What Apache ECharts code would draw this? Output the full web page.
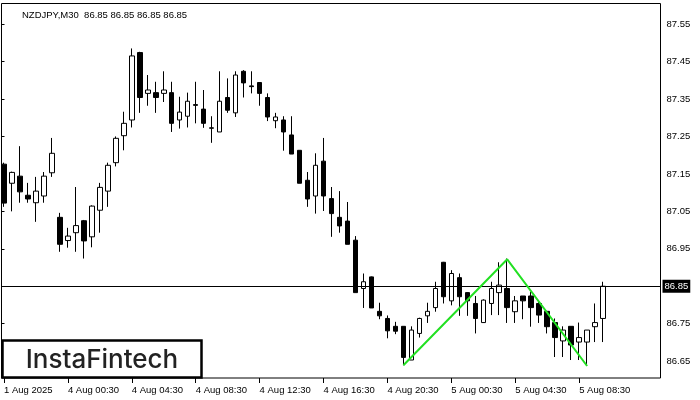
<!DOCTYPE html>
<html>
<head>
<meta charset="utf-8">
<script src="https://cdn.jsdelivr.net/npm/echarts@6/dist/echarts.min.js"></script>
<style>html,body{margin:0;padding:0;background:#fff}#c{width:700px;height:400px}</style>
</head>
<body>
<div id="c"></div>
<script>
const titleText = 'NZDJPY,M30  86.85 86.85 86.85 86.85';
const tickLabels = ['1 Aug 2025','4 Aug 00:30','4 Aug 04:30','4 Aug 08:30','4 Aug 12:30','4 Aug 16:30','4 Aug 20:30','5 Aug 00:30','5 Aug 04:30','5 Aug 08:30'];
const yTicks = [86.65, 86.75, 86.85, 86.95, 87.05, 87.15, 87.25, 87.35, 87.45, 87.55];
const lastPrice = 86.85;
const opens = [87.176,87.125,87.144,87.093,87.073,87.091,87.153,87.034,86.972,86.993,
87.025,86.982,87.053,87.104,87.18,87.252,87.294,87.474,87.365,87.367,
87.365,87.367,87.294,87.304,87.335,87.323,87.273,87.262,87.354,87.313,
87.424,87.385,87.394,87.354,87.292,87.294,87.254,87.213,87.133,87.091,
87.184,87.084,87.034,87.024,86.973,86.844,86.875,86.783,86.764,86.743,
86.743,86.653,86.724,86.771,86.793,86.914,86.811,86.873,86.833,86.804,
86.753,86.804,86.833,86.844,86.782,86.824,86.824,86.804,86.783,86.753,
86.704,86.743,86.701,86.701,86.742,86.764];
const closes = [87.072,87.154,87.102,87.083,87.104,87.144,87.205,86.962,86.984,87.012,
86.971,87.064,87.114,87.173,87.245,87.285,87.465,87.354,87.374,87.354,
87.374,87.285,87.315,87.344,87.333,87.285,87.272,87.344,87.320,87.414,
87.393,87.383,87.365,87.302,87.302,87.262,87.203,87.125,87.083,87.173,
87.091,87.044,87.011,86.962,86.833,86.862,86.792,86.771,86.731,86.730,
86.660,86.733,86.764,86.783,86.844,86.822,86.884,86.822,86.811,86.764,
86.813,86.844,86.853,86.793,86.811,86.811,86.793,86.773,86.742,86.713,
86.733,86.693,86.713,86.733,86.753,86.85];
const lows = [87.062,87.05,87.073,87.073,87.022,87.073,87.142,86.942,86.953,86.942,
86.924,86.954,86.993,87.062,87.17,87.213,87.274,87.313,87.332,87.313,
87.342,87.262,87.271,87.274,87.285,87.273,87.233,87.262,87.313,87.302,
87.354,87.365,87.332,87.291,87.272,87.212,87.203,87.125,87.062,87.044,
87.051,86.982,86.993,86.962,86.833,86.792,86.792,86.762,86.711,86.722,
86.639,86.653,86.713,86.752,86.782,86.804,86.799,86.771,86.771,86.724,
86.752,86.773,86.773,86.752,86.752,86.762,86.742,86.752,86.724,86.661,
86.661,86.653,86.653,86.639,86.701,86.701];
const highs = [87.18,87.156,87.224,87.126,87.142,87.155,87.246,87.046,87.006,87.115,
87.027,87.066,87.126,87.18,87.25,87.316,87.485,87.476,87.414,87.396,
87.424,87.396,87.356,87.367,87.396,87.374,87.304,87.424,87.405,87.424,
87.427,87.424,87.395,87.365,87.313,87.304,87.304,87.213,87.155,87.205,
87.246,87.115,87.104,87.075,86.984,86.884,86.876,86.806,86.772,86.755,
86.743,86.743,86.766,86.806,86.862,86.915,86.893,86.884,86.834,86.824,
86.815,86.862,86.914,86.924,86.824,86.824,86.835,86.813,86.784,86.764,
86.743,86.743,86.753,86.733,86.804,86.862];
const patternX = [50, 63, 73];
const patternY = [86.639, 86.922, 86.637];

const slots = 83;
const categories = [];
for (let i = 0; i < slots; i++) categories.push(i % 8 === 0 && tickLabels[i / 8] ? tickLabels[i / 8] : '');
const candleData = opens.map((o, i) => [o, closes[i], lows[i], highs[i]]);
const patternData = patternX.map((x, i) => [x, patternY[i]]);
const showTick = (i) => i % 8 === 0 && i / 8 < tickLabels.length;

const yMin = 86.605, yMax = 87.605;
const font = 'Liberation Sans, Arial, sans-serif';
const chart = echarts.init(document.getElementById('c'));
chart.setOption({
  animation: false,
  backgroundColor: '#fff',
  title: { text: titleText, left: 17, top: 5, textStyle: { fontSize: 9.5, fontWeight: 'normal', color: '#000', fontFamily: font } },
  grid: [
    { left: -1, right: 37, top: 3.5, bottom: 22 },
    { left: 1.5, right: 39.5, top: 3.5, bottom: 22, show: true, borderColor: '#000', borderWidth: 1, backgroundColor: 'transparent' }
  ],
  xAxis: [
    { type: 'category', gridIndex: 0, data: categories, boundaryGap: true,
      axisLine: { show: false },
      axisTick: { show: true, alignWithLabel: true, interval: showTick, length: 5, lineStyle: { color: '#000' } },
      axisLabel: { interval: showTick, align: 'left', margin: 7, fontSize: 9.5, color: '#000', fontFamily: font },
      splitLine: { show: false } },
    { type: 'value', gridIndex: 1, min: 0, max: 1, show: false }
  ],
  yAxis: [
    { type: 'value', gridIndex: 0, min: yMin, max: yMax, show: false },
    { type: 'value', gridIndex: 1, min: yMin, max: yMax, position: 'right',
      axisLine: { show: false },
      axisTick: { show: true, customValues: yTicks, length: 3, lineStyle: { color: '#000' } },
      axisLabel: { customValues: yTicks, margin: 6, fontSize: 9.5, color: '#000', fontFamily: font, formatter: v => v.toFixed(2) },
      splitLine: { show: false } }
  ],
  series: [
    { type: 'candlestick', xAxisIndex: 0, yAxisIndex: 0, data: candleData, barWidth: 5,
      itemStyle: { color: '#fff', color0: '#000', borderColor: '#000', borderColor0: '#000', borderWidth: 1 } },
    { type: 'line', xAxisIndex: 0, yAxisIndex: 0, data: patternData, symbol: 'none', z: 5,
      lineStyle: { color: '#22e022', width: 2 } },
    { type: 'line', xAxisIndex: 1, yAxisIndex: 1, data: [[0, lastPrice], [1, lastPrice]], symbol: 'none',
      lineStyle: { opacity: 0 },
      markLine: { silent: true, symbol: ['none', 'none'], animation: false,
        lineStyle: { color: '#000', width: 1, type: 'solid' },
        label: { show: true, position: 'end', distance: 2, formatter: '86.85', color: '#fff', backgroundColor: '#000', padding: [2, 2, 1, 2], fontSize: 9.5, fontFamily: font },
        data: [{ yAxis: lastPrice }] } }
  ],
  graphic: [
    { type: 'rect', z: 100, shape: { x: 2.5, y: 340.5, width: 199, height: 37 }, style: { fill: '#fff', stroke: '#000', lineWidth: 2.5 } },
    { type: 'text', z: 101, x: 102, y: 360, style: { text: 'InstaFintech', fontSize: 26, fontFamily: 'Inter, sans-serif', fontWeight: 500, fill: '#222', textAlign: 'center', textVerticalAlign: 'middle' } }
  ]
});
</script>
</body>
</html>
